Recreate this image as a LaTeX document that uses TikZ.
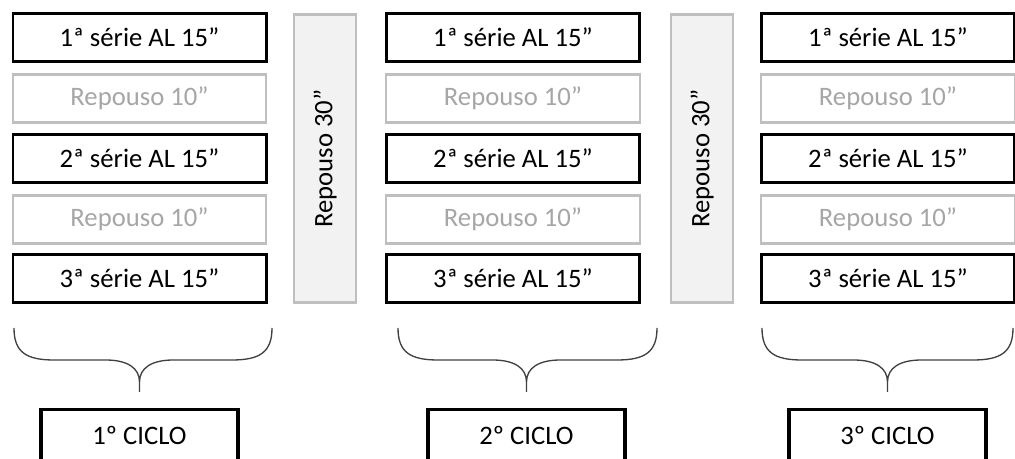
\documentclass[tikz,border=0pt]{standalone}
\usepackage{fontspec}
\setmainfont{Carlito}
\usepackage{tikz}
\usetikzlibrary{calc}
\definecolor{boxgray}{RGB}{191,191,191}
\definecolor{txtgray}{RGB}{166,166,166}
\definecolor{barfill}{RGB}{242,242,242}
\definecolor{bracegray}{RGB}{64,64,64}
\tikzset{
  serie/.style={rectangle, draw=black, line width=2pt,
    minimum width=190pt, minimum height=36pt, font=\fontsize{20}{22}\selectfont},
  pausa/.style={rectangle, draw=boxgray, line width=1.6pt, text=txtgray,
    minimum width=190pt, minimum height=36pt, font=\fontsize{20}{22}\selectfont},
  pausalonga/.style={rectangle, draw=boxgray, fill=barfill, line width=1.6pt,
    minimum width=216pt, minimum height=47pt, rotate=90,
    font=\fontsize{20}{22}\selectfont},
  ciclo/.style={rectangle, draw=black, line width=2.6pt,
    minimum width=148pt, minimum height=38pt, font=\fontsize{20}{22}\selectfont},
  chave/.style={draw=bracegray, line width=1pt}
}
\begin{document}
\begin{tikzpicture}[x=0.75pt, y=-0.75pt]
  \useasboundingbox (0,0) rectangle (1015,459);
  \clip (0,0) rectangle (1015,459);

  % Three cycles of series and rests
  \foreach \c/\xc/\xl/\xr/\xb in {1/139.5/14/272/139.5, 2/513/398/657/526.5, 3/888/762/1013/887.5}{
    \node[serie] (c\c s1) at (\xc, 37.5) {1ª série AL 15”};
    \node[pausa] (c\c r1) at (\xc, 98.5) {Repouso 10”};
    \node[serie] (c\c s2) at (\xc, 158.5) {2ª série AL 15”};
    \node[pausa] (c\c r2) at (\xc, 219.5) {Repouso 10”};
    \node[serie] (c\c s3) at (\xc, 278.5) {3ª série AL 15”};
    \node[ciclo] (ciclo\c) at (\xb, 435) {\c º CICLO};

    % Brace
    \coordinate (tip\c) at ($(ciclo\c.north)+(0,-16)$);
    \draw[chave] (\xl,328) .. controls (\xl,352) and (\xl+12,360) .. (\xl+40,360)
      -- (\xb-34,360) .. controls (\xb-12,360) and (\xb,368) .. (\xb,382)
      -- (tip\c)
      (\xb,382) .. controls (\xb,368) and (\xb+12,360) .. (\xb+34,360)
      -- (\xr-40,360) .. controls (\xr-12,360) and (\xr,352) .. (\xr,328);
  }

  % Long rests between cycles
  \node[pausalonga] (pausa1) at (325, 158.5) {Repouso 30”};
  \node[pausalonga] (pausa2) at (702, 158.5) {Repouso 30”};

\end{tikzpicture}
\end{document}
